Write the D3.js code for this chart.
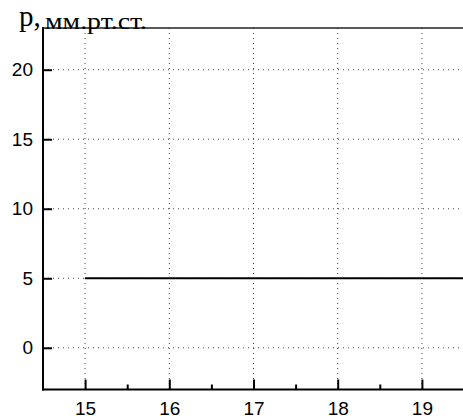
<!DOCTYPE html>
<html><head><meta charset="utf-8">
<script src="https://cdn.jsdelivr.net/npm/d3@7"></script>
<style>body{margin:0;background:#fff}svg{display:block}</style>
</head><body>
<svg id="c" width="463" height="416"></svg>
<script>
const xTicks = [15, 16, 17, 18, 19];
const xMinorTicks = [15.5, 16.5, 17.5, 18.5, 19.5];
const yTicks = [0, 5, 10, 15, 20];
const seriesX = [15, 16, 17, 18, 19, 19.5];
const seriesP = [5, 5, 5, 5, 5, 5];
const yLabelSym = "р,";
const yLabelUnit = "мм.рт.ст.";

const svg = d3.select("#c");
const L = 43, R = 464, T = 28, B = 389.5;
const x = d3.scaleLinear().domain([14.5, 19.5]).range([L, R]);
const y = d3.scaleLinear().domain([-3, 23]).range([B, T]);

// grid
const g = svg.append("g");
g.selectAll(".vg").data(xTicks).join("line")
  .attr("x1", d => x(d)).attr("x2", d => x(d)).attr("y1", T).attr("y2", B)
  .attr("stroke", "#444").attr("stroke-width", 1).attr("stroke-dasharray", "1,4");
g.selectAll(".hg").data(yTicks).join("line")
  .attr("x1", L).attr("x2", R).attr("y1", d => y(d)).attr("y2", d => y(d))
  .attr("stroke", "#444").attr("stroke-width", 1).attr("stroke-dasharray", "1,4");

// line
svg.append("path").datum(seriesX.map((d, i) => [d, seriesP[i]]))
  .attr("d", d3.line().x(d => x(d[0])).y(d => y(d[1])))
  .attr("fill", "none").attr("stroke", "#000").attr("stroke-width", 2);

// axes
const xAxis = d3.axisBottom(x).tickValues(xTicks).tickSize(-10).tickPadding(12)
  .tickFormat(d3.format("d"));
const gx = svg.append("g").attr("transform", `translate(0,${B})`).call(xAxis);
gx.select(".domain").remove();
gx.selectAll(".tick line").attr("stroke-width", 2);
gx.selectAll("text").attr("font-family", "Liberation Sans, Arial, sans-serif").attr("font-size", 19).attr("fill", "#000");
const xMinor = d3.axisBottom(x).tickValues(xMinorTicks).tickSize(-5).tickFormat("");
const gxm = svg.append("g").attr("transform", `translate(0,${B})`).call(xMinor);
gxm.select(".domain").remove();
gxm.selectAll(".tick line").attr("stroke-width", 2);

const yAxis = d3.axisLeft(y).tickValues(yTicks).tickSize(-9).tickPadding(10);
const gy = svg.append("g").attr("transform", `translate(${L},0)`).call(yAxis);
gy.select(".domain").remove();
gy.selectAll(".tick line").attr("stroke-width", 2);
gy.selectAll("text").attr("font-family", "Liberation Sans, Arial, sans-serif").attr("font-size", 19).attr("fill", "#000");

// frame lines
svg.append("line").attr("x1", L).attr("x2", L).attr("y1", T - 1).attr("y2", B + 1)
  .attr("stroke", "#000").attr("stroke-width", 2);
svg.append("line").attr("x1", L - 1).attr("x2", 463).attr("y1", B).attr("y2", B)
  .attr("stroke", "#000").attr("stroke-width", 2);
svg.append("line").attr("x1", L).attr("x2", 463).attr("y1", T).attr("y2", T)
  .attr("stroke", "#222").attr("stroke-width", 1.5);

const lab = svg.append("text")
  .attr("font-family", "Liberation Serif, Times New Roman, serif").attr("fill", "#000");
lab.append("tspan").attr("x", 19).attr("y", 26).attr("font-size", 29).text(yLabelSym);
lab.append("tspan").attr("x", 45).attr("y", 29).attr("font-size", 23)
  .attr("textLength", 102).attr("lengthAdjust", "spacingAndGlyphs").text(yLabelUnit);
</script>
</body></html>
